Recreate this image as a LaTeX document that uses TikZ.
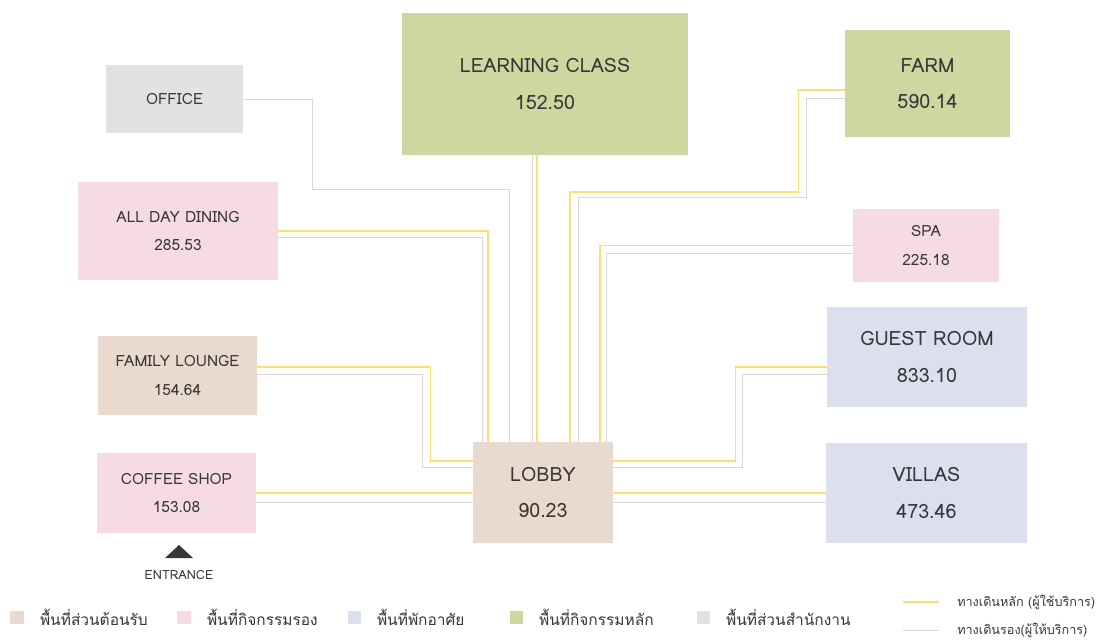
\documentclass[tikz,border=0pt]{standalone}
\usepackage{fontspec}
\setmainfont{Loma}
\newfontfamily\thaifont[Script=Thai]{Loma}
\usetikzlibrary{positioning, calc, shapes.geometric}
\definecolor{ink}{RGB}{55,55,55}
\definecolor{recep}{RGB}{233,218,208}
\definecolor{second}{RGB}{246,219,227}
\definecolor{resid}{RGB}{220,224,238}
\definecolor{mainact}{RGB}{204,216,160}
\definecolor{offic}{RGB}{226,225,227}
\definecolor{walkyellow}{RGB}{249,224,118}
\definecolor{walkgray}{RGB}{216,216,216}

\begin{document}
\begin{tikzpicture}[
  x=0.025cm, y=-0.025cm,
  room/.style={rectangle, fill=#1, inner sep=0pt, text=ink, align=center},
  big/.style={font=\fontsize{14}{26}\selectfont},
  small/.style={font=\fontsize{11}{20.5}\selectfont},
  mainway/.style={draw=walkyellow, line width=1.1pt},
  staffway/.style={draw=walkgray, line width=0.6pt},
  keysq/.style={rectangle, fill=#1, inner sep=0pt, minimum size=0.325cm},
  keytext/.style={inner sep=0pt, text=ink, font=\thaifont\fontsize{11}{13}\selectfont},
]
\fill[white] (0,0) rectangle (1100,641);
\useasboundingbox (0,0) rectangle (1100,641);

% rooms
\node[room=offic, small, minimum width=3.425cm, minimum height=1.7cm] (office) at (174.5,99) {OFFICE};
\node[room=mainact, big, minimum width=7.15cm, minimum height=3.55cm] (lc) at (545,84) {LEARNING CLASS\\152.50};
\node[room=mainact, big, minimum width=4.125cm, minimum height=2.675cm] (farm) at (927.5,83.5) {FARM\\590.14};
\node[room=second, small, minimum width=5cm, minimum height=2.45cm] (adding) at (178,231) {ALL DAY DINING\\285.53};
\node[room=second, small, minimum width=3.65cm, minimum height=1.825cm] (spa) at (926,245.5) {SPA\\225.18};
\node[room=recep, small, minimum width=3.975cm, minimum height=1.975cm] (lounge) at (177.5,375.5) {FAMILY LOUNGE\\154.64};
\node[room=resid, big, minimum width=5cm, minimum height=2.5cm] (guest) at (927,357) {GUEST ROOM\\833.10};
\node[room=second, small, minimum width=3.975cm, minimum height=2cm] (coffee) at (176.5,493) {COFFEE SHOP\\153.08};
\node[room=recep, big, minimum width=3.5cm, minimum height=2.525cm] (lobby) at (543,492.5) {LOBBY\\90.23};
\node[room=resid, big, minimum width=5.025cm, minimum height=2.5cm] (villas) at (926.5,493) {VILLAS\\473.46};

% entrance
\coordinate (entry) at (179,558);
\fill[ink] (entry) ++(-14,0) -- ++(14,-13) -- ++(14,13) -- cycle;
\node[below=0.3cm of entry, inner sep=0pt, text=ink, font=\fontsize{9}{11}\selectfont] (entrytext) {ENTRANCE};

% walkways
\draw[staffway] (office.east) -- ++(69,0) -- ++(0,90) -| ($(lobby.north)+(-34,0)$);
\draw[mainway] (adding.east) -| ($(lobby.north)+(-55,0)$);
\draw[staffway] ($(adding.east)+(0,6)$) -| ($(lobby.north)+(-61,0)$);
\draw[mainway] ($(lc.south)+(-8,0)$) -- ($(lobby.north)+(-6,0)$);
\draw[staffway] ($(lc.south)+(-13,0)$) -- ($(lobby.north)+(-11,0)$);
\draw[mainway] ($(farm.west)+(0,6.5)$) -- ++(-46,0) -- ++(0,102) -| ($(lobby.north)+(27,0)$);
\draw[staffway] ($(farm.west)+(0,14.5)$) -- ++(-38,0) -- ++(0,99) -| ($(lobby.north)+(35,0)$);
\draw[mainway] (spa.west) -| ($(lobby.north)+(57,0)$);
\draw[staffway] ($(spa.west)+(0,7.5)$) -| ($(lobby.north)+(63,0)$);
\draw[mainway] ($(guest.west)+(0,10)$) -- ++(-91,0) |- ($(lobby.east)+(0,-31.5)$);
\draw[staffway] ($(guest.west)+(0,17)$) -- ++(-84,0) |- ($(lobby.east)+(0,-25.5)$);
\draw[mainway] (villas.west) -- ($(lobby.east)+(0,0.5)$);
\draw[staffway] ($(villas.west)+(0,9.5)$) -- ($(lobby.east)+(0,10)$);
\draw[mainway] ($(lounge.east)+(0,-8.5)$) -- ++(173,0) |- ($(lobby.west)+(0,-31.5)$);
\draw[staffway] ($(lounge.east)+(0,-1.5)$) -- ++(165,0) |- ($(lobby.west)+(0,-25.5)$);
\draw[mainway] (coffee.east) -- ($(lobby.west)+(0,0.5)$);
\draw[staffway] ($(coffee.east)+(0,9.5)$) -- ($(lobby.west)+(0,10)$);

% legend
\node[keysq=recep] (key1) at (17,617) {};
\node[keytext, right=0.4cm of key1] (keytext1) {พื้นที่ส่วนต้อนรับ};
\node[keysq=second] (key2) at (184,617) {};
\node[keytext, right=0.4cm of key2] (keytext2) {พื้นที่กิจกรรมรอง};
\node[keysq=resid] (key3) at (354,617) {};
\node[keytext, right=0.4cm of key3] (keytext3) {พื้นที่พักอาศัย};
\node[keysq=mainact] (key4) at (516,617) {};
\node[keytext, right=0.4cm of key4] (keytext4) {พื้นที่กิจกรรมหลัก};
\node[keysq=offic] (key5) at (703,617) {};
\node[keytext, right=0.4cm of key5] (keytext5) {พื้นที่ส่วนสำนักงาน};

\coordinate (mainkey) at (903,602);
\draw[mainway] (mainkey) -- ++(36,0) coordinate (mainkeyend);
\node[keytext, font=\thaifont\fontsize{9}{11}\selectfont, right=0.45cm of mainkeyend] (mainkeytext) {ทางเดินหลัก (ผู้ใช้บริการ)};
\coordinate (staffkey) at (903,630);
\draw[staffway] (staffkey) -- ++(36,0) coordinate (staffkeyend);
\node[keytext, font=\thaifont\fontsize{9}{11}\selectfont, right=0.45cm of staffkeyend] (staffkeytext) {ทางเดินรอง(ผู้ให้บริการ)};
\end{tikzpicture}
\end{document}
